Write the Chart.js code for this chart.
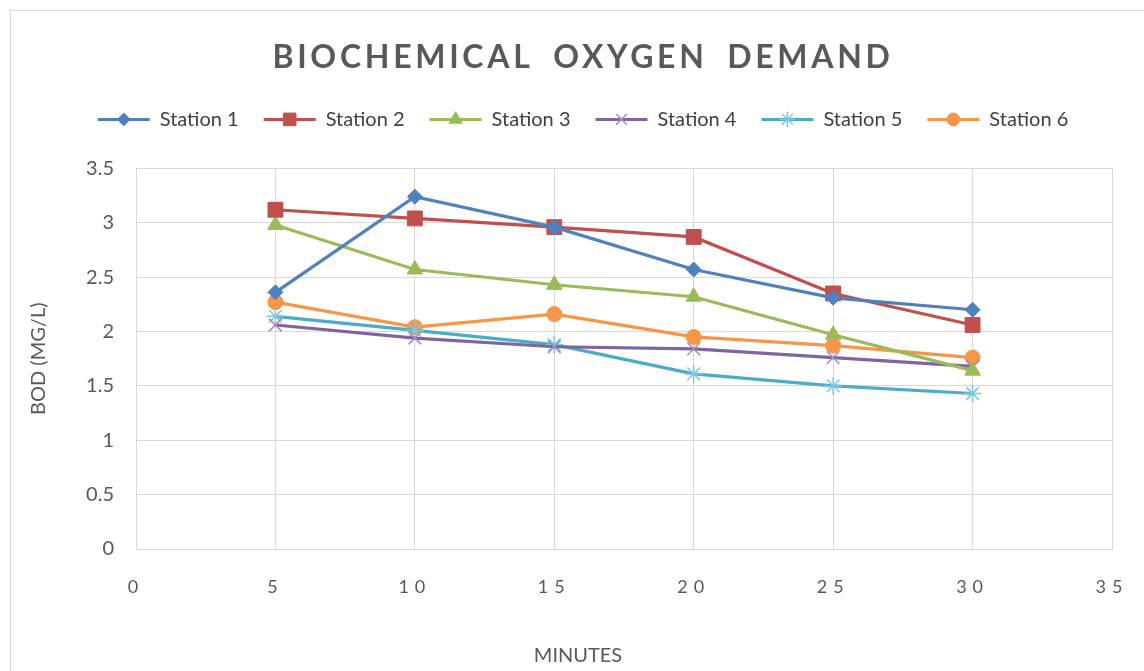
<!DOCTYPE html>
<html>
<head>
<meta charset="utf-8">
<script src="https://cdn.jsdelivr.net/npm/chart.js@4"></script>
<style>
html,body{margin:0;padding:0;background:#fff;overflow:hidden;width:1144px;height:671px;}
#box{position:absolute;left:10px;top:10px;width:1134px;height:670px;border:1px solid #d9d9d9;border-right:none;border-bottom:none;background:#fff;}
#wrap{position:absolute;left:0;top:0;width:1134px;height:660px;}
</style>
</head>
<body>
<div id="box"><div id="wrap"><canvas id="c"></canvas></div></div>
<script>
const minutes = [5, 10, 15, 20, 25, 30];
const seriesNames = ['Station 1', 'Station 2', 'Station 3', 'Station 4', 'Station 5', 'Station 6'];
const station1 = [2.36, 3.24, 2.96, 2.57, 2.31, 2.20];
const station2 = [3.12, 3.04, 2.96, 2.87, 2.35, 2.06];
const station3 = [2.98, 2.57, 2.43, 2.32, 1.97, 1.64];
const station4 = [2.06, 1.94, 1.86, 1.84, 1.76, 1.68];
const station5 = [2.14, 2.01, 1.88, 1.61, 1.50, 1.43];
const station6 = [2.27, 2.04, 2.16, 1.95, 1.87, 1.76];
const xTicks = [0, 5, 10, 15, 20, 25, 30, 35];
const yTicks = [0, 0.5, 1, 1.5, 2, 2.5, 3, 3.5];

const colors = ['#4F81BD', '#C0504D', '#9BBB59', '#8064A2', '#4BACC6', '#F79646'];
const markerColors = ['#4F81BD', '#C0504D', '#9BBB59', '#A28CC0', '#7FC8DC', '#F79646'];
const styles = ['rectRot', 'rect', 'triangle', 'crossRot', 'star', 'circle'];
const radii = [7.5, 10.5, 9, 9, 9, 7.5];
const values = [station1, station2, station3, station4, station5, station6];

const datasets = seriesNames.map((name, i) => ({
  label: name,
  data: minutes.map((m, j) => ({x: m, y: values[i][j]})),
  borderColor: colors[i],
  backgroundColor: markerColors[i],
  pointBackgroundColor: markerColors[i],
  pointBorderColor: markerColors[i],
  pointStyle: styles[i],
  pointRadius: radii[i],
  pointBorderWidth: (styles[i] === 'crossRot' || styles[i] === 'star') ? 1.5 : 1,
  borderWidth: 3.2,
  tension: 0
}));

const fontFam = 'Lato, "Open Sans", sans-serif';
const legendExtra = 29;

const patchPlugin = {
  id: 'patch',
  beforeUpdate(chart) {
    const lg = chart.legend;
    if (lg && !lg._patched) {
      const of = lg.fit;
      lg.fit = function() { of.call(this); this.height += legendExtra; };
      lg._patched = true;
    }
  },
  beforeDraw(chart) {
    const ctx = chart.ctx;
    if (chart.titleBlock && !chart.titleBlock._patched) {
      const orig = chart.titleBlock.draw;
      chart.titleBlock.draw = function(a) {
        ctx.save(); ctx.letterSpacing = '3.7px'; orig.call(this, a); ctx.restore();
      };
      chart.titleBlock._patched = true;
    }
    const xs = chart.scales.x;
    if (xs && !xs._patched) {
      const o = xs.drawLabels;
      xs.drawLabels = function(a) {
        ctx.save(); ctx.letterSpacing = '6px'; o.call(this, a); ctx.restore();
      };
      const ot = xs.drawTitle;
      xs.drawTitle = function(a) {
        const shift = chart.width / 2 - (this.left + this.right) / 2;
        ctx.save(); ctx.translate(shift, 0); ot.call(this, a); ctx.restore();
      };
      xs._patched = true;
    }
  },
  afterDraw(chart) {
    const lg = chart.legend;
    if (!lg || !lg.legendHitBoxes) return;
    const ctx = chart.ctx;
    lg.legendHitBoxes.forEach((hb, i) => {
      const ds = chart.data.datasets[i];
      const cx = hb.left + 26;
      const cy = hb.top + hb.height / 2;
      ctx.save();
      ctx.fillStyle = ds.pointBackgroundColor;
      ctx.strokeStyle = ds.pointBorderColor;
      ctx.lineWidth = ds.pointBorderWidth;
      Chart.helpers.drawPoint(ctx, {pointStyle: ds.pointStyle, rotation: 0, radius: ds.pointRadius * 0.85, borderWidth: ds.pointBorderWidth}, cx, cy);
      ctx.restore();
    });
  }
};

new Chart(document.getElementById('c'), {
  type: 'line',
  data: { datasets },
  options: {
    responsive: true,
    maintainAspectRatio: false,
    animation: false,
    layout: { padding: { left: 28, right: 18, top: 12, bottom: 0 } },
    plugins: {
      tooltip: { enabled: false },
      title: {
        display: true,
        text: 'BIOCHEMICAL\u2002OXYGEN\u2002DEMAND',
        color: '#595959',
        font: { family: fontFam, size: 32, weight: 'bold' },
        padding: { top: 15, bottom: 8 }
      },
      legend: {
        display: true,
        labels: {
          color: '#404040',
          font: { family: fontFam, size: 20 },
          boxWidth: 52,
          boxHeight: 3,
          padding: 25,
          generateLabels(chart) {
            return chart.data.datasets.map((ds, i) => ({
              text: ds.label,
              fillStyle: ds.borderColor,
              strokeStyle: ds.borderColor,
              lineWidth: 0,
              hidden: false,
              datasetIndex: i,
              fontColor: '#404040'
            }));
          }
        }
      }
    },
    scales: {
      x: {
        type: 'linear',
        min: 0, max: 35,
        afterBuildTicks(s) { s.ticks = xTicks.map(v => ({value: v})); },
        afterFit(s) { s.height = 122; s.paddingRight = 33; },
        grid: { color: '#d9d9d9', drawTicks: false, lineWidth: 1 },
        border: { color: '#d9d9d9' },
        ticks: { color: '#595959', font: { family: fontFam, size: 18 }, padding: 27, maxRotation: 0 },
        title: { display: true, text: 'MINUTES', color: '#595959', font: { family: fontFam, size: 20 }, padding: { top: 0, bottom: 3 } }
      },
      y: {
        min: 0, max: 3.5,
        afterBuildTicks(s) { s.ticks = yTicks.map(v => ({value: v})); },
        afterFit(s) { s.width = 97; },
        grid: { color: '#d9d9d9', drawTicks: false, lineWidth: 1 },
        border: { display: false },
        ticks: { color: '#595959', font: { family: fontFam, size: 20 }, padding: 22, callback: v => String(v) },
        title: { display: true, text: 'BOD (MG/L)', color: '#595959', font: { family: fontFam, size: 20 }, padding: { top: -12, bottom: 0 } }
      }
    }
  },
  plugins: [patchPlugin]
});
</script>
</body>
</html>
